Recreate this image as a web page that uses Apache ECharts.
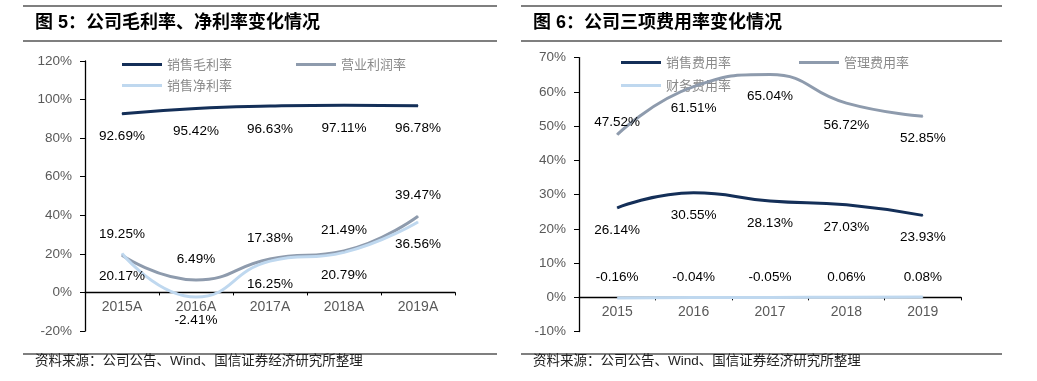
<!DOCTYPE html>
<html>
<head>
<meta charset="utf-8">
<script src="https://cdn.jsdelivr.net/npm/echarts@6/dist/echarts.min.js"></script>
<style>
html,body{margin:0;padding:0;background:#fff;}
#c{width:1037px;height:381px;}
</style>
</head>
<body>
<div id="c"></div>
<script>
// ---- Data ----
const yearsLeft = ['2015A', '2016A', '2017A', '2018A', '2019A'];
const grossMargin = [92.69, 95.42, 96.63, 97.11, 96.78];      // 销售毛利率
const operatingMargin = [19.25, 6.49, 17.38, 21.49, 39.47];   // 营业利润率
const netMargin = [20.17, -2.41, 16.25, 20.79, 36.56];        // 销售净利率

const yearsRight = ['2015', '2016', '2017', '2018', '2019'];
const salesExpense = [26.14, 30.55, 28.13, 27.03, 23.93];     // 销售费用率
const adminExpense = [47.52, 61.51, 65.04, 56.72, 52.85];     // 管理费用率
const financeExpense = [-0.16, -0.04, -0.05, 0.06, 0.08];     // 财务费用率

const leftAxis = { min: -20, max: 120, interval: 20 };
const rightAxis = { min: -10, max: 70, interval: 10 };

const titleLeft = '图 5：公司毛利率、净利率变化情况';
const titleRight = '图 6：公司三项费用率变化情况';
const sourceText = '资料来源：公司公告、Wind、国信证券经济研究所整理';

// ---- Style ----
const C_DARK = '#142f58';
const C_GRAY = '#8e9bad';
const C_LIGHT = '#bfd8ef';
const LATIN = "'Liberation Sans', Arial, 'Noto Sans CJK SC', sans-serif";
const CJK = "'Noto Sans CJK SC', sans-serif";

const fmt = p => p.value.toFixed(2) + '%';
function lbl(pos, dist) {
  return { show: true, position: pos, distance: dist, formatter: fmt,
           color: '#000', fontSize: 13.5, fontFamily: LATIN };
}
function lineSeries(name, data, color, xi, label) {
  return {
    name, type: 'line', data, xAxisIndex: xi, yAxisIndex: xi,
    smooth: true, showSymbol: true, symbol: 'circle', symbolSize: 1,
    lineStyle: { color, width: 3 }, itemStyle: { color },
    label, z: 5, animation: false
  };
}
function legendAt(name, left, top) {
  return {
    data: [name], left, top, icon: 'rect', itemWidth: 40, itemHeight: 3,
    selectedMode: false, padding: 0,
    textStyle: { color: '#8a8a8a', fontSize: 13, fontFamily: CJK }
  };
}
function yAx(gi, a) {
  return {
    type: 'value', gridIndex: gi, min: a.min, max: a.max, interval: a.interval,
    axisLine: { show: true, lineStyle: { color: '#000', width: 1.3 } },
    axisTick: { show: true, length: 5, lineStyle: { color: '#000' } },
    axisLabel: { formatter: '{value}%', color: '#595959', fontSize: 13.5, fontFamily: LATIN, margin: 13 },
    splitLine: { show: false }
  };
}
function xAx(gi, cats, offset) {
  return {
    type: 'category', gridIndex: gi, data: cats, offset: offset || 0,
    axisLine: { show: true, onZero: false, lineStyle: { color: '#000', width: 1.3 } },
    axisTick: { show: true, length: 3, lineStyle: { color: '#000' } },
    axisLabel: { color: '#595959', fontSize: 14, fontFamily: LATIN, margin: 8 }
  };
}

const adminData = adminExpense.map((v, i) => i === 0
  ? { value: v, label: { position: 'top', distance: 5 } } : v);

const chart = echarts.init(document.getElementById('c'), null, { renderer: 'canvas' });
chart.setOption({
  backgroundColor: '#fff',
  animation: false,
  grid: [
    { left: 85, top: 61, width: 370, height: 270 },
    { left: 579, top: 57.6, width: 382, height: 274 }
  ],
  xAxis: [xAx(0, yearsLeft), xAx(1, yearsRight)],
  yAxis: [yAx(0, leftAxis), yAx(1, rightAxis)],
  legend: [
    legendAt('销售毛利率', 122, 58),
    legendAt('营业利润率', 296, 58),
    legendAt('销售净利率', 122, 79),
    legendAt('销售费用率', 621, 56),
    legendAt('管理费用率', 799, 56),
    legendAt('财务费用率', 621, 79)
  ],
  series: [
    lineSeries('销售毛利率', grossMargin, C_DARK, 0, lbl('bottom', 15.5)),
    lineSeries('营业利润率', operatingMargin, C_GRAY, 0, lbl('top', 13.5)),
    lineSeries('销售净利率', netMargin, C_LIGHT, 0, lbl('bottom', 15.5)),
    lineSeries('销售费用率', salesExpense, C_DARK, 1, lbl('bottom', 15)),
    lineSeries('管理费用率', adminData, C_GRAY, 1, lbl('bottom', 14.5)),
    lineSeries('财务费用率', financeExpense, C_LIGHT, 1, lbl('top', 13))
  ],
  graphic: [
    { type: 'line', shape: { x1: 23, y1: 6, x2: 497, y2: 6 }, style: { stroke: '#000', lineWidth: 1.2 } },
    { type: 'line', shape: { x1: 23, y1: 41, x2: 497, y2: 41 }, style: { stroke: '#000', lineWidth: 1.2 } },
    { type: 'line', shape: { x1: 23, y1: 354, x2: 497, y2: 354 }, style: { stroke: '#000', lineWidth: 1.2 } },
    { type: 'line', shape: { x1: 521, y1: 6, x2: 1002, y2: 6 }, style: { stroke: '#000', lineWidth: 1.2 } },
    { type: 'line', shape: { x1: 521, y1: 41, x2: 1002, y2: 41 }, style: { stroke: '#000', lineWidth: 1.2 } },
    { type: 'line', shape: { x1: 521, y1: 354, x2: 1002, y2: 354 }, style: { stroke: '#000', lineWidth: 1.2 } },
    { type: 'text', left: 35, top: 14, style: { text: titleLeft, font: "bold 18px 'Liberation Sans', 'Noto Sans CJK SC', sans-serif", fill: '#000' } },
    { type: 'text', left: 533, top: 14, style: { text: titleRight, font: "bold 18px 'Liberation Sans', 'Noto Sans CJK SC', sans-serif", fill: '#000' } },
    { type: 'text', left: 35, top: 355, style: { text: sourceText, font: "13.5px 'Liberation Sans', 'Noto Sans CJK SC', sans-serif", fill: '#222' } },
    { type: 'text', left: 533, top: 355, style: { text: sourceText, font: "13.5px 'Liberation Sans', 'Noto Sans CJK SC', sans-serif", fill: '#222' } }
  ]
});

// Move each category axis onto the value 0 of its value axis (computed from the scale)
const off0 = chart.convertToPixel({ yAxisIndex: 0 }, 0) - chart.convertToPixel({ yAxisIndex: 0 }, leftAxis.min);
const off1 = chart.convertToPixel({ yAxisIndex: 1 }, 0) - chart.convertToPixel({ yAxisIndex: 1 }, rightAxis.min);
chart.setOption({ xAxis: [{ offset: off0 }, { offset: off1 }] });
</script>
</body>
</html>
